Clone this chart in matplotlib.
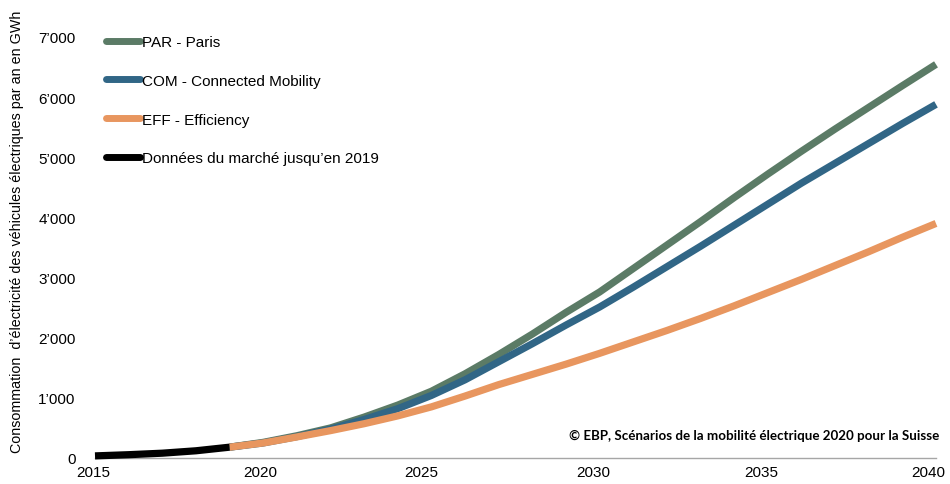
import matplotlib
matplotlib.use("Agg")
import matplotlib.pyplot as plt
from matplotlib.ticker import FuncFormatter
from matplotlib.transforms import ScaledTranslation

plt.rcParams['font.family'] = ['Liberation Sans', 'DejaVu Sans']

years_hist = [2015, 2016, 2017, 2018, 2019]
hist = [35, 55, 80, 120, 180]

years = list(range(2019, 2041))
par = [180, 260, 370, 500, 680, 880, 1110, 1400, 1720, 2060, 2420, 2760, 3150,
       3540, 3930, 4330, 4720, 5100, 5470, 5830, 6190, 6545]
com = [180, 250, 355, 480, 640, 820, 1040, 1300, 1600, 1900, 2210, 2510, 2840,
       3180, 3520, 3870, 4220, 4570, 4900, 5230, 5560, 5880]
eff = [180, 250, 350, 455, 570, 700, 850, 1030, 1220, 1390, 1560, 1740, 1930,
       2120, 2320, 2530, 2750, 2970, 3200, 3430, 3670, 3900]

labels = ["PAR - Paris", "COM - Connected Mobility", "EFF - Efficiency",
          "Données du marché jusqu’en 2019"]
colors = ["#5B7B66", "#316686", "#E8965F", "#000000"]

xticks = [2015, 2020, 2025, 2030, 2035, 2040]
yticks = [0, 1000, 2000, 3000, 4000, 5000, 6000, 7000]

fig = plt.figure(figsize=(9.5, 4.85), dpi=100)
ax = fig.add_axes([95/950, 1 - 459/485, (936 - 95)/950, 421/485])

lw = 5.2
ax.plot(years, par, color=colors[0], lw=lw, solid_capstyle='butt', solid_joinstyle='round', label=labels[0])
ax.plot(years, com, color=colors[1], lw=lw, solid_capstyle='butt', solid_joinstyle='round', label=labels[1])
ax.plot(years, eff, color=colors[2], lw=lw, solid_capstyle='butt', solid_joinstyle='round', label=labels[2])
ax.plot(years_hist, hist, color=colors[3], lw=lw, solid_capstyle='butt', solid_joinstyle='round', label=labels[3], zorder=5)

ax.set_xlim(2015, 2040)
ax.set_ylim(0, 7000)
ax.set_xticks(xticks)
ax.set_yticks(yticks)
ax.yaxis.set_major_formatter(FuncFormatter(lambda v, p: "0" if v == 0 else f"{int(v)//1000}’{int(v)%1000:03d}"))
ax.tick_params(axis='both', length=0, labelsize=11, colors='#000000')
ax.tick_params(axis='x', pad=5)
ax.tick_params(axis='y', pad=14)
for s in ['top', 'right', 'left']:
    ax.spines[s].set_visible(False)
ax.spines['bottom'].set_color('#A6A6A6')
ax.spines['bottom'].set_linewidth(1.0)
for ln in ax.lines:
    ln.set_clip_on(False)

# shift tick labels slightly to match reference placement
offsets = {2015: -2, 2020: -3, 2025: -10, 2030: -6, 2035: -7, 2040: -8}
for tick, lab in zip(ax.get_xticks(), ax.get_xticklabels()):
    dx = offsets.get(int(tick), 0)
    lab.set_transform(lab.get_transform() + ScaledTranslation(dx / 100, 0, fig.dpi_scale_trans))

ax.set_ylabel("Consommation  d’électricité des véhicules électriques par an en GWh",
              fontsize=10.3)
ax.yaxis.set_label_coords(-0.084, 0.54)

leg = ax.legend(loc='upper left', bbox_to_anchor=(0.0, 1.03), frameon=False,
                fontsize=11, handlelength=2.25, handletextpad=0.1,
                labelspacing=1.62, borderaxespad=0.3)
for h in leg.legend_handles:
    h.set_linewidth(5)
    h.set_solid_capstyle('round')

ax.text(1.004, 0.055, "© EBP, Scénarios de la mobilité électrique 2020 pour la Suisse",
        transform=ax.transAxes, ha='right', va='center', fontsize=9.6,
        fontweight='bold', family=['Lato', 'DejaVu Sans'])

fig.savefig("out.png", dpi=100)
